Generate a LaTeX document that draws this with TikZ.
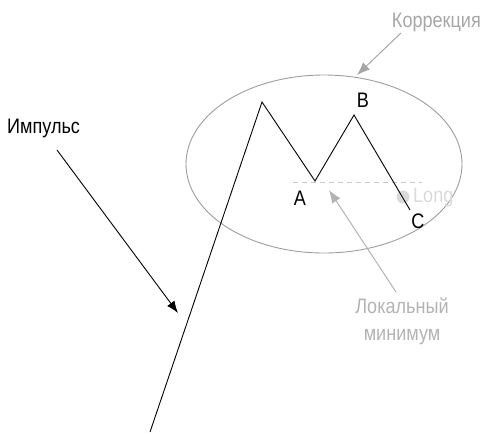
\documentclass[tikz,border=0pt]{standalone}
\usepackage{fontspec}
\setmainfont{Liberation Sans}[FakeStretch=0.86]
\usetikzlibrary{arrows.meta}
\definecolor{lblgray}{HTML}{A6A6A6}
\definecolor{lightlbl}{HTML}{B3B3B3}
\definecolor{ellgray}{HTML}{9E9E9E}
\definecolor{longgray}{HTML}{DADADA}
\begin{document}
\begin{tikzpicture}[x=1pt,y=-1pt,
  lbl/.style={font=\fontsize{21}{25}\selectfont, inner sep=1pt},
  graylbl/.style={lbl, text=lblgray},
  wave/.style={line width=0.9pt, black, line join=miter},
  grayarrow/.style={draw=lblgray, line width=1pt, -{Latex[length=13pt,width=10pt]}},
  blackarrow/.style={draw=black, line width=0.9pt, -{Latex[length=12pt,width=9pt]}}]
\useasboundingbox (0,0) rectangle (481,432);
% ellipse
\draw[ellgray, line width=0.9pt] (324,164) ellipse [x radius=138, y radius=89];
% dashed level
\coordinate (d1) at (293,182);
\coordinate (d2) at (422,182);
\draw[longgray!80!gray, dash pattern=on 5pt off 4pt, line width=0.9pt] (d1) -- (d2);
% Long marker
\node[circle, fill=longgray, inner sep=0pt, minimum size=13pt] (dot) at (403,197) {};
\node[lbl, text=longgray, anchor=west] (long) at (412,197) {Long};
% zigzag
\coordinate (p0) at (150,432);
\coordinate (p1) at (262,102);
\coordinate (A) at (315,181);
\coordinate (B) at (354,115);
\coordinate (C) at (410,210);
\draw[wave] (p0) -- (p1) -- (A) -- (B) -- (C);
% point labels
\node[lbl] (la) at (300,198) {A};
\node[lbl] (lb) at (363,100) {B};
\node[lbl] (lc) at (418,221) {C};
% Impulse
\node[lbl, anchor=west] (imp) at (6,128) {Импульс};
\coordinate (impstart) at (57,150);
\coordinate (impend) at (178,313);
\draw[blackarrow] (impstart) -- (impend);
% Correction
\node[graylbl, anchor=east] (corr) at (482,22) {Коррекция};
\coordinate (corrstart) at (401,33);
\coordinate (corrend) at (357,75);
\draw[grayarrow] (corrstart) -- (corrend);
% local minimum
\node[graylbl, text=lightlbl, align=center] (locmin) at (402,321) {Локальный\\[2pt]минимум};
\coordinate (locstart) at (396,292);
\coordinate (locend) at (329,190);
\draw[grayarrow, draw=lightlbl] (locstart) -- (locend);
\end{tikzpicture}
\end{document}
